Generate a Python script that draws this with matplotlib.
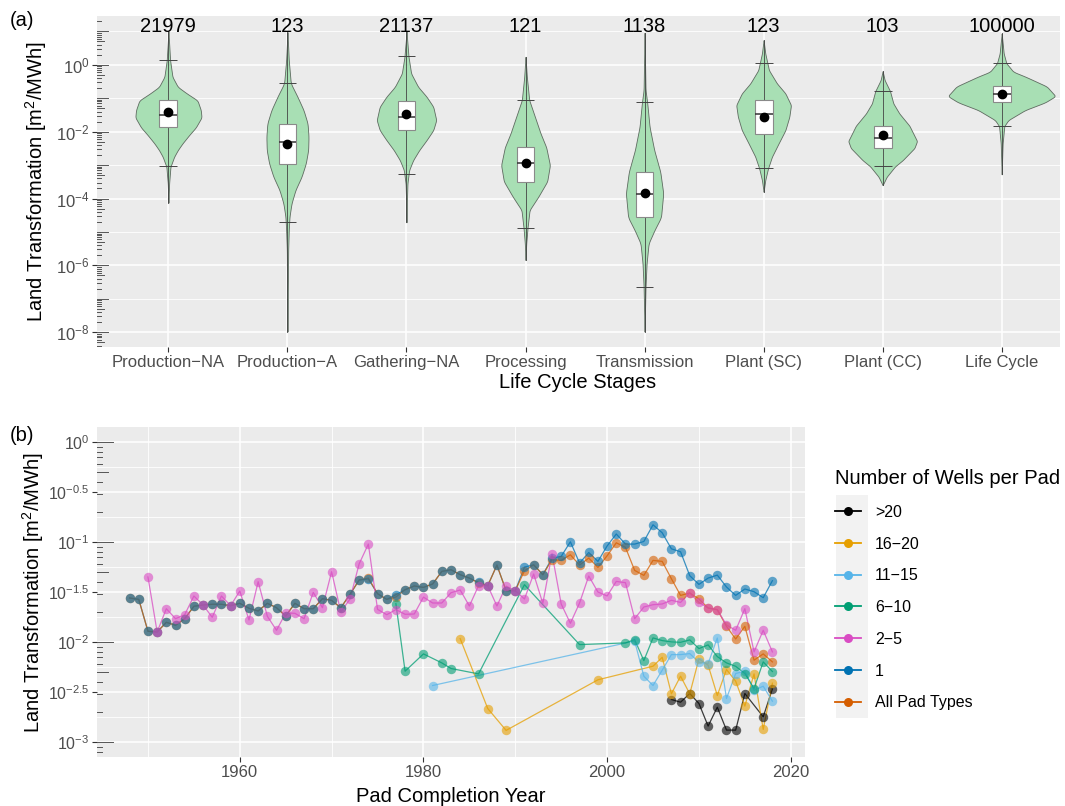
import numpy as np
import matplotlib
matplotlib.use('Agg')
import matplotlib.pyplot as plt
from matplotlib.lines import Line2D
from matplotlib.patches import Rectangle
from matplotlib.ticker import NullFormatter

plt.rcParams['font.family'] = ['Liberation Sans', 'DejaVu Sans']
plt.rcParams['mathtext.fontset'] = 'custom'
plt.rcParams['mathtext.rm'] = 'Liberation Sans'
plt.rcParams['mathtext.it'] = 'Liberation Sans:italic'
plt.rcParams['mathtext.bf'] = 'Liberation Sans:bold'

# ---------------- panel (a): life cycle stages (values are log10 m2/MWh) ----------------
stages = ['Production\u2212NA', 'Production\u2212A', 'Gathering\u2212NA', 'Processing',
          'Transmission', 'Plant (SC)', 'Plant (CC)', 'Life Cycle']
n_obs = [21979, 123, 21137, 121, 1138, 123, 103, 100000]
whisk_lo = [-3.04, -4.71, -3.28, -4.87, -6.64, -3.10, -3.04, -1.83]
box_q1 = [-1.87, -2.97, -1.96, -3.49, -4.56, -2.08, -2.49, -1.125]
box_med = [-1.49, -2.32, -1.55, -2.94, -3.875, -1.484, -2.20, -0.886]
box_q3 = [-1.06, -1.77, -1.085, -2.47, -3.20, -1.065, -1.82, -0.647]
whisk_hi = [0.13, -0.556, 0.25, -1.055, -1.125, 0.05, -0.786, 0.05]
means = [-1.41, -2.38, -1.474, -2.94, -3.83, -1.554, -2.09, -0.886]

# violin outlines: log10 level and half width (x units)
violin_logs = [
    [1.0, 0.64, 0.14, -0.36, -0.66, -0.855, -1.065, -1.354, -1.574, -1.873, -2.102, -2.35, -2.55, -2.75, -3.05, -3.546, -4.124],
    [0.98, 0.14, -0.556, -0.955, -1.354, -1.753, -2.15, -2.55, -2.95, -3.35, -3.746, -4.145, -4.544, -4.94, -5.54, -6.835, -7.98],
    [1.0, 0.64, 0.24, -0.259, -0.66, -0.955, -1.255, -1.653, -1.953, -2.25, -2.55, -2.85, -3.15, -3.546, -4.145, -4.71],
    [0.24, -0.36, -1.055, -2.05, -2.47, -3.0, -3.487, -3.946, -4.344, -4.87, -5.34, -5.84],
    [0.96, -0.756, -1.125, -1.853, -2.55, -3.2, -3.846, -4.564, -4.94, -5.34, -5.94, -6.64, -7.33, -7.98],
    [0.74, 0.34, -0.16, -0.556, -0.855, -1.205, -1.554, -1.953, -2.35, -2.75, -3.1, -3.446, -3.8],
    [-0.189, -0.458, -0.787, -1.155, -1.454, -1.823, -2.281, -2.49, -2.85, -3.04, -3.35, -3.6],
    [0.94, 0.34, 0.05, -0.208, -0.358, -0.647, -0.936, -1.125, -1.354, -1.653, -1.833, -2.35, -3.276],
]
violin_hw = [
    [0, 0.006, 0.014, 0.034, 0.079, 0.154, 0.244, 0.272, 0.278, 0.230, 0.174, 0.118, 0.079, 0.048, 0.017, 0.006, 0],
    [0, 0.011, 0.028, 0.084, 0.135, 0.169, 0.177, 0.174, 0.154, 0.118, 0.067, 0.034, 0.017, 0.011, 0.006, 0.003, 0],
    [0, 0.008, 0.017, 0.039, 0.098, 0.169, 0.225, 0.250, 0.225, 0.169, 0.107, 0.056, 0.022, 0.008, 0.003, 0],
    [0, 0.011, 0.031, 0.126, 0.174, 0.205, 0.182, 0.107, 0.034, 0.017, 0.006, 0],
    [0, 0.008, 0.022, 0.042, 0.081, 0.132, 0.157, 0.138, 0.084, 0.034, 0.017, 0.008, 0.004, 0],
    [0, 0.014, 0.045, 0.112, 0.183, 0.230, 0.216, 0.183, 0.126, 0.070, 0.037, 0.014, 0],
    [0, 0.017, 0.062, 0.090, 0.140, 0.225, 0.289, 0.267, 0.169, 0.104, 0.034, 0],
    [0, 0.017, 0.039, 0.098, 0.202, 0.379, 0.452, 0.365, 0.197, 0.056, 0.022, 0.008, 0],
]

# ---------------- panel (b): by pad completion year (log10 m2/MWh) ----------------
years_all = list(range(1948, 2019))
all_pads = [-1.56, -1.574, -1.893, -1.90, -1.803, -1.833, -1.767, -1.643, -1.63, -1.623,
            -1.623, -1.637, -1.613, -1.663, -1.69, -1.613, -1.657, -1.74, -1.613, -1.667,
            -1.667, -1.567, -1.584, -1.657, -1.524, -1.38, -1.36, -1.517, -1.574, -1.55,
            -1.477, -1.44, -1.454, -1.42, -1.294, -1.277, -1.327, -1.361, -1.41, -1.437,
            -1.231, -1.487, -1.487, -1.288, -1.228, -1.327, -1.178, -1.184, -1.128, -1.231,
            -1.161, -1.254, -1.138, -1.008, -1.054, -1.284, -1.334, -1.184, -1.194, -1.367,
            -1.534, -1.51, -1.57, -1.66, -1.677, -1.843, -1.97, -1.843, -2.182, -2.119, -2.199]
one_well = [-1.56, -1.574, -1.893, -1.90, -1.803, -1.833, -1.767, -1.643, -1.63, -1.623,
            -1.623, -1.637, -1.613, -1.663, -1.69, -1.613, -1.657, -1.74, -1.613, -1.667,
            -1.667, -1.567, -1.584, -1.657, -1.524, -1.38, -1.37, -1.517, -1.574, -1.527,
            -1.477, -1.44, -1.454, -1.42, -1.294, -1.277, -1.327, -1.361, -1.404, -1.437,
            -1.231, -1.487, -1.487, -1.251, -1.228, -1.327, -1.161, -1.144, -0.998, -1.211,
            -1.105, -1.194, -1.04, -0.92, -1.021, -1.021, -0.995, -0.828, -0.908, -1.068,
            -1.098, -1.337, -1.424, -1.361, -1.331, -1.45, -1.534, -1.47, -1.497, -1.557, -1.387]
years_2_5 = list(range(1950, 2019))
wells_2_5 = [-1.35, -1.90, -1.667, -1.767, -1.727, -1.54, -1.63, -1.753, -1.54, -1.637,
             -1.49, -1.78, -1.397, -1.743, -1.883, -1.71, -1.713, -1.767, -1.504, -1.657,
             -1.297, -1.70, -1.57, -1.218, -1.021, -1.673, -1.727, -1.676, -1.723, -1.72,
             -1.551, -1.61, -1.61, -1.507, -1.48, -1.64, -1.437, -1.437, -1.64, -1.441,
             -1.487, -1.57, -1.32, -1.614, -1.118, -1.62, -1.813, -1.61, -1.34, -1.50,
             -1.54, -1.394, -1.407, -1.767, -1.65, -1.627, -1.62, -1.583, -1.604, -1.51,
             -1.604, -1.66, -1.677, -1.83, -1.883, -1.667, -2.099, -1.883, -2.099]
years_6_10 = [1977, 1978, 1980, 1982, 1983, 1986, 1991, 1997] + list(range(2002, 2019))
wells_6_10 = [-1.617, -2.292, -2.119, -2.209, -2.265, -2.319, -1.427, -2.026,
              -2.009, -1.976, -2.186, -1.959, -1.986, -1.999, -2.003, -1.979, -2.066,
              -2.029, -2.146, -2.209, -2.243, -2.315, -2.465, -2.199, -2.295]
years_11_15 = [1981] + list(range(2003, 2019))
wells_11_15 = [-2.435, -1.99, -2.342, -2.435, -2.282, -2.126, -2.126, -2.116, -2.202,
               -2.215, -1.96, -2.565, -2.315, -2.292, -2.482, -2.442, -2.592]
years_16_20 = [1984, 1987, 1989, 1999] + list(range(2005, 2019))
wells_16_20 = [-1.966, -2.665, -2.884, -2.378, -2.242, -2.153, -2.518, -2.342, -2.518,
               -2.169, -2.232, -2.535, -2.275, -2.392, -2.641, -2.319, -2.874, -2.412]
years_gt20 = list(range(2007, 2016)) + [2017, 2018]
wells_gt20 = [-2.575, -2.602, -2.515, -2.615, -2.841, -2.652, -2.881, -2.881, -2.515,
              -2.748, -2.469]

W, H = 1065, 806


def fx(px):
    return px / W


def fy(py):
    return 1 - py / H


def gg_axes(ax, labelsize=12):
    ax.set_facecolor('#EBEBEB')
    for s in ax.spines.values():
        s.set_visible(False)
    ax.set_axisbelow(True)
    ax.tick_params(which='major', length=3.5, width=0.8, color='#333333',
                   labelcolor='#4D4D4D', labelsize=labelsize, pad=2)
    ax.tick_params(which='minor', length=0)


def log_ticks(ax, lo, hi, lens, width_px):
    tr = ax.get_yaxis_transform()
    for d in range(lo, hi + 1):
        for m in range(1, 10):
            v = m * 10.0 ** d
            L = lens[0] if m == 1 else (lens[1] if m == 5 else lens[2])
            ax.plot([0, L / width_px], [v, v], transform=tr, color='#555555', lw=0.7)


def violin_outline(logs, hws, n=400, k=9):
    logs = np.asarray(logs, float)
    hws = np.asarray(hws, float)
    order = np.argsort(logs)
    grid = np.linspace(logs.min(), logs.max(), n)
    hw = np.interp(grid, logs[order], hws[order])
    hw = np.convolve(np.pad(hw, k // 2, mode='edge'), np.ones(k) / k, mode='valid')
    hw[0] = hw[-1] = 0
    return grid, hw


fig = plt.figure(figsize=(W / 100, H / 100), dpi=100)

# ---------------- panel (a) ----------------
ax1 = fig.add_axes([fx(97), fy(347), fx(1060) - fx(97), fy(16) - fy(347)])
gg_axes(ax1)
ax1.set_yscale('log')
ax1.set_ylim(10 ** -8.44, 10 ** 1.46)
ax1.set_xlim(0.4, 8.49)
ax1.set_yticks([1e-8, 1e-6, 1e-4, 1e-2, 1e0],
               ['$10^{-8}$', '$10^{-6}$', '$10^{-4}$', '$10^{-2}$', '$10^{0}$'])
ax1.set_yticks([1e-7, 1e-5, 1e-3, 1e-1, 1e1], minor=True)
ax1.yaxis.set_minor_formatter(NullFormatter())
ax1.set_xticks(range(1, 9), stages)
ax1.yaxis.grid(True, which='major', color='white', lw=1.1)
ax1.yaxis.grid(True, which='minor', color='white', lw=0.6)
ax1.xaxis.grid(True, which='major', color='white', lw=1.1)
log_ticks(ax1, -9, 1, (11, 7, 4), 963)

bw = 0.15
for i in range(8):
    x = i + 1
    g, hw = violin_outline(violin_logs[i], violin_hw[i])
    ax1.fill_betweenx(10 ** g, x - hw, x + hw, facecolor='#A8DFB4', edgecolor='#5E6B60',
                      lw=0.6, zorder=2)
    ax1.plot([x, x], [10 ** min(violin_logs[i]), 10 ** max(violin_logs[i])],
             color='#444444', lw=0.6, zorder=3)
    ax1.hlines([10 ** whisk_lo[i], 10 ** whisk_hi[i]], x - bw / 2, x + bw / 2,
               color='#444444', lw=0.7, zorder=3)
    ax1.bar(x, 10 ** box_q3[i] - 10 ** box_q1[i], bottom=10 ** box_q1[i], width=bw,
            facecolor='white', edgecolor='#8A8A8A', lw=0.8, zorder=4)
    ax1.hlines(10 ** box_med[i], x - bw / 2, x + bw / 2, color='#333333', lw=1.1, zorder=5)
    ax1.plot(x, 10 ** means[i], 'o', color='black', ms=6, zorder=6)
    ax1.text(x, 10 ** 0.985, str(n_obs[i]), ha='center', va='baseline', fontsize=14.5,
             color='black', zorder=7)

# ---------------- panel (b) ----------------
ax2 = fig.add_axes([fx(97), fy(757), fx(805) - fx(97), fy(427) - fy(757)])
gg_axes(ax2, labelsize=11.5)
ax2.set_yscale('log')
ax2.set_ylim(10 ** -3.15, 10 ** 0.15)
ax2.set_xlim(1944.45, 2021.55)
yt = [0, -0.5, -1, -1.5, -2, -2.5, -3]
ax2.set_yticks([10 ** v for v in yt], ['$10^{%g}$' % v for v in yt])
ax2.set_yticks([10 ** v for v in [-0.25, -0.75, -1.25, -1.75, -2.25, -2.75]], minor=True)
ax2.yaxis.set_minor_formatter(NullFormatter())
ax2.set_xticks([1960, 1980, 2000, 2020])
ax2.set_xticks([1950, 1970, 1990, 2010], minor=True)
ax2.tick_params(axis='x', labelsize=12)
ax2.grid(True, which='major', color='white', lw=1.1)
ax2.grid(True, which='minor', color='white', lw=0.6)
log_ticks(ax2, -4, 0, (16, 11, 5), 708)

series = [
    ('>20', years_gt20, wells_gt20, '#000000'),
    ('16\u221220', years_16_20, wells_16_20, '#E69F00'),
    ('11\u221215', years_11_15, wells_11_15, '#56B4E9'),
    ('6\u221210', years_6_10, wells_6_10, '#009E73'),
    ('2\u22125', years_2_5, wells_2_5, '#D94CC3'),
    ('1', years_all, one_well, '#0072B2'),
    ('All Pad Types', years_all, all_pads, '#D55E00'),
]
line_order = [5, 6, 0, 1, 2, 3, 4]
point_order = [6, 5, 0, 1, 2, 3, 4]
for z, j in enumerate(line_order):
    lab, yrs, vals, c = series[j]
    ax2.plot(yrs, 10 ** np.asarray(vals), '-', color=c, lw=0.9, alpha=0.75, zorder=3 + z * 0.01)
for z, j in enumerate(point_order):
    lab, yrs, vals, c = series[j]
    ax2.plot(yrs, 10 ** np.asarray(vals), 'o', color=c, ms=6.8, mec='none', alpha=0.6,
             zorder=4 + z * 0.01)

handles = [Line2D([0], [0], color=c, lw=1.3, marker='o', ms=6.5, mfc=c, mec='none')
           for lab, yrs, vals, c in series]
fig.patches.append(Rectangle((fx(836), fy(718)), fx(868) - fx(836), fy(495) - fy(718),
                             transform=fig.transFigure, facecolor='#F2F2F2',
                             edgecolor='none', zorder=0))
leg = fig.legend(handles, [s[0] for s in series], loc='upper left',
                 bbox_to_anchor=(fx(835), fy(469)), frameon=False,
                 title='Number of Wells per Pad', title_fontsize=14.5, fontsize=11.5,
                 alignment='left', handlelength=1.65, handletextpad=0.85,
                 labelspacing=1.05, borderpad=0, borderaxespad=0)
leg._legend_handle_box.align = 'baseline'
for t in leg.get_texts():
    t.set_color('black')

# ---------------- titles ----------------
ylab = 'Land Transformation [m$^2$/MWh]'
fig.text(fx(36), fy(181), ylab, rotation=90, ha='center', va='center', fontsize=14.5)
fig.text(fx(33), fy(592), ylab, rotation=90, ha='center', va='center', fontsize=14.5)
fig.text(fx(578), fy(383), 'Life Cycle Stages', ha='center', va='center', fontsize=14.5)
fig.text(fx(451), fy(797), 'Pad Completion Year', ha='center', va='center', fontsize=14.5)
fig.text(fx(10), fy(20), '(a)', ha='left', va='center', fontsize=14.5)
fig.text(fx(10), fy(435), '(b)', ha='left', va='center', fontsize=14.5)

fig.savefig('out.png', dpi=100)
